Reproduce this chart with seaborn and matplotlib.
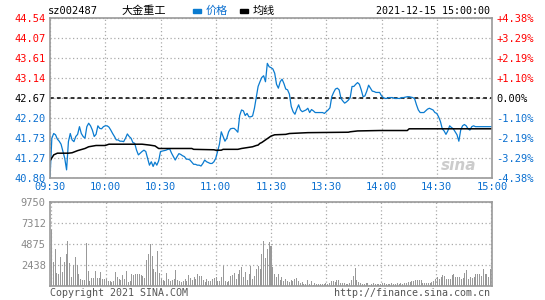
import matplotlib
matplotlib.use("Agg")
import matplotlib.pyplot as plt
from matplotlib.patches import Rectangle
import seaborn as sns

sns.set_theme(style="white")
plt.rcParams['font.family'] = ['DejaVu Sans Mono', 'Noto Sans CJK SC']

# ---------------- data ----------------
stock_code = "sz002487"
stock_name = "大金重工"
timestamp = "2021-12-15 15:00:00"
prev_close = 42.67

price_minutes = list(range(241))
price = [
    40.80, 41.73, 41.84, 41.81, 41.71, 41.66, 41.59, 41.42, 41.26, 40.99,
    41.65, 41.84, 41.69, 41.65, 41.77, 41.82, 42.00, 41.84, 41.77, 41.73,
    42.00, 42.08, 42.02, 41.92, 41.77, 41.82, 42.02, 41.96, 41.95, 42.00,
    42.02, 42.02, 41.99, 41.92, 41.84, 41.77, 41.69, 41.69, 41.66, 41.66,
    41.65, 41.73, 41.83, 41.77, 41.73, 41.63, 41.61, 41.45, 41.34, 41.38,
    41.42, 41.45, 41.42, 41.26, 41.10, 41.18, 41.07, 41.17, 41.10, 41.20,
    41.42, 41.43, 41.44, 41.45, 41.47, 41.48, 41.38, 41.30, 41.22, 41.30,
    41.37, 41.35, 41.32, 41.30, 41.24, 41.24, 41.22, 41.17, 41.12, 41.12,
    41.10, 41.10, 41.08, 41.14, 41.22, 41.18, 41.16, 41.14, 41.14, 41.18,
    41.26, 41.42, 41.59, 41.88, 41.77, 41.66, 41.73, 41.88, 41.95, 41.96,
    41.96, 41.92, 41.87, 42.26, 42.39, 42.37, 42.26, 42.31, 42.23, 42.23,
    42.25, 42.43, 42.68, 42.94, 43.05, 43.15, 43.19, 43.05, 43.48, 43.40,
    43.38, 43.35, 43.25, 42.99, 42.90, 43.05, 43.11, 43.01, 42.88, 42.86,
    42.76, 42.47, 42.35, 42.29, 42.41, 42.51, 42.39, 42.35, 42.37, 42.39,
    42.43, 42.33, 42.40, 42.37, 42.33, 42.33, 42.33, 42.33, 42.33, 42.31,
    42.35, 42.39, 42.44, 42.70, 42.80, 42.88, 42.90, 42.86, 42.66, 42.60,
    42.55, 42.58, 42.62, 42.68, 42.94, 42.94, 42.99, 43.03, 42.99, 42.86,
    42.70, 42.72, 42.83, 42.97, 42.90, 42.83, 42.82, 42.80, 42.80, 42.80,
    42.72, 42.68, 42.66, 42.66, 42.68, 42.68, 42.68, 42.66, 42.66, 42.66,
    42.66, 42.68, 42.68, 42.69, 42.70, 42.70, 42.69, 42.68, 42.65, 42.51,
    42.39, 42.33, 42.33, 42.33, 42.37, 42.41, 42.43, 42.41, 42.39, 42.33,
    42.31, 42.23, 42.12, 41.95, 41.90, 41.82, 41.90, 42.02, 41.98, 41.95,
    41.88, 41.81, 41.66, 41.92, 42.02, 42.05, 42.02, 41.95, 41.92, 42.00,
    42.02, 42.00, 42.00, 42.00, 42.00, 42.00, 42.00, 42.00, 42.00, 42.00,
    42.00,
]

avg_minutes = [0, 2, 4, 10, 12, 15, 19, 21, 25, 30, 32, 45, 50, 54, 57, 59,
               60, 77, 78, 89, 90, 93, 94, 102, 104, 107, 110, 112, 113, 114,
               115, 117, 119, 120, 122, 128, 130, 140, 162, 163, 167, 179,
               180, 194, 195, 240]
avg_price = [41.20, 41.34, 41.38, 41.38, 41.39, 41.44, 41.49, 41.53, 41.56,
             41.56, 41.59, 41.59, 41.59, 41.57, 41.55, 41.49, 41.49, 41.49,
             41.47, 41.46, 41.45, 41.45, 41.47, 41.47, 41.49, 41.51, 41.53,
             41.56, 41.57, 41.61, 41.63, 41.69, 41.75, 41.78, 41.81, 41.82,
             41.84, 41.86, 41.87, 41.88, 41.90, 41.91, 41.91, 41.91, 41.95,
             41.95]

vol_minutes = list(range(241))
volume = [
    6520, 2790, 4280, 1530, 1410, 3380, 1610, 2790, 3770, 5270,
    2670, 1020, 2440, 3380, 2440, 1410, 860, 710, 750, 5030,
    1730, 550, 980, 940, 1730, 900, 900, 1610, 860, 790,
    790, 550, 630, 510, 630, 1570, 1100, 790, 710, 1260,
    830, 1730, 510, 590, 1340, 1260, 1340, 1410, 1410, 1260,
    1140, 940, 3070, 3690, 4870, 3500, 1970, 1610, 4090, 1530,
    860, 710, 630, 1490, 790, 550, 710, 860, 1850, 710,
    630, 510, 550, 860, 630, 1260, 940, 710, 1020, 790,
    1410, 1140, 1140, 750, 470, 860, 550, 550, 790, 940,
    1100, 630, 550, 1020, 2320, 630, 510, 550, 1140, 1260,
    1530, 790, 1340, 1810, 2200, 1020, 1650, 750, 1340, 2320,
    860, 1140, 1930, 2320, 1930, 3770, 5270, 3300, 4280, 5110,
    4680, 2200, 1410, 1020, 1410, 710, 1020, 630, 860, 550,
    430, 710, 630, 860, 980, 550, 310, 430, 240, 240,
    750, 240, 550, 160, 390, 200, 200, 200, 200, 240,
    310, 200, 390, 550, 630, 470, 710, 710, 390, 310,
    310, 240, 200, 390, 750, 1140, 2080, 710, 470, 310,
    240, 200, 350, 390, 160, 240, 310, 200, 280, 200,
    200, 310, 310, 240, 240, 200, 310, 240, 280, 310,
    240, 350, 280, 390, 350, 510, 470, 550, 630, 750,
    710, 710, 670, 390, 390, 310, 390, 310, 470, 550,
    860, 1020, 860, 1100, 1260, 1180, 860, 790, 860, 1260,
    1410, 1100, 1020, 1100, 790, 940, 1490, 1810, 860, 1100,
    940, 1100, 1410, 1340, 1340, 1140, 1930, 1340, 1410, 1020,
    1930,
]

price_ticks = [40.80, 41.27, 41.73, 42.20, 42.67, 43.14, 43.61, 44.07, 44.54]
pct_labels = ["-4.38%", "-3.29%", "-2.19%", "-1.10%", "0.00%",
              "+1.10%", "+2.19%", "+3.29%", "+4.38%"]
time_ticks = [0, 30, 60, 90, 120, 150, 180, 210, 240]
time_labels = ["09:30", "10:00", "10:30", "11:00", "11:30",
               "13:30", "14:00", "14:30", "15:00"]
vol_ticks = [0, 2438, 4875, 7312, 9750]
vol_labels = ["", "2438", "4875", "7312", "9750"]

# ---------------- style ----------------
BLUE = "#0a7bd0"
TBLUE = "#0a6fd0"
RED = "#ff0000"
GRID = "#aaaaaa"
SPINE = "#999999"
FS = 7.5

W, H = 545, 300
fig = plt.figure(figsize=(W / 100, H / 100), dpi=100)
fig.patch.set_facecolor("white")


def fx(px):
    return px / W


def fy(py):
    return 1 - py / H


# price axes
ax = fig.add_axes([fx(50), fy(178), fx(492) - fx(50), fy(18) - fy(178)])
sns.lineplot(x=price_minutes, y=price, ax=ax, color=BLUE, lw=0.9)
sns.lineplot(x=avg_minutes, y=avg_price, ax=ax, color="black", lw=1.1)
ax.axhline(prev_close, color="black", lw=1.1, ls=(0, (2.5, 2)), zorder=1)
ax.set_xlim(0, 240)
ax.set_ylim(price_ticks[0], price_ticks[-1])
ax.set_yticks(price_ticks)
ax.set_yticklabels([f"{v:.2f}" for v in price_ticks])
ax.set_xticks(time_ticks)
ax.set_xticklabels(time_labels)
ax.grid(True, color=GRID, ls=(0, (1, 2)), lw=0.9)
ax.set_axisbelow(True)
ax.tick_params(axis="both", length=0, labelsize=FS, pad=3)
ax.tick_params(axis="x", pad=3, labelcolor=TBLUE)
for lbl, v in zip(ax.get_yticklabels(), price_ticks):
    lbl.set_color(RED if v > prev_close else ("black" if v == prev_close else TBLUE))
for s in ax.spines.values():
    s.set_color(SPINE)
    s.set_linewidth(1.2)
ax.set_xlabel("")
ax.set_ylabel("")

ax2 = ax.twinx()
ax2.set_ylim(price_ticks[0], price_ticks[-1])
ax2.set_yticks(price_ticks)
ax2.set_yticklabels(pct_labels)
ax2.tick_params(axis="y", length=0, labelsize=FS, pad=3)
for lbl, t in zip(ax2.get_yticklabels(), pct_labels):
    lbl.set_color(RED if t.startswith("+") else (TBLUE if t.startswith("-") else "black"))
for s in ax2.spines.values():
    s.set_visible(False)

# watermark
ax.text(0.965, 0.08, "sina", transform=ax.transAxes, ha="right", va="center",
        fontsize=11, fontweight="bold", fontstyle="italic", color="#cccccc",
        family="DejaVu Sans")

# volume axes
axv = fig.add_axes([fx(50), fy(286), fx(492) - fx(50), fy(202) - fy(286)])
sns.barplot(x=vol_minutes, y=volume, ax=axv, native_scale=True,
            color="#999999", width=0.55, linewidth=0, errorbar=None,
            saturation=1)
axv.set_xlim(-0.8, 240.8)
axv.set_ylim(0, vol_ticks[-1])
axv.set_yticks(vol_ticks)
axv.set_yticklabels(vol_labels)
axv.set_xticks(time_ticks)
axv.set_xticklabels([])
axv.grid(True, color=GRID, ls=(0, (1, 2)), lw=0.9)
axv.set_axisbelow(True)
axv.tick_params(axis="both", length=0, labelsize=FS, pad=3, labelcolor="#888888")
for s in axv.spines.values():
    s.set_color(SPINE)
    s.set_linewidth(1.2)
axv.set_xlabel("")
axv.set_ylabel("")

# header
fig.text(fx(48), fy(11), stock_code, fontsize=FS, va="center", ha="left", color="black")
fig.text(fx(121), fy(11), stock_name, fontsize=8, va="center", ha="left",
         color="black", family=["Noto Sans CJK SC", "DejaVu Sans"])
fig.patches.append(Rectangle((fx(193), fy(12.5)), fx(8), 3 / H, color=BLUE,
                             transform=fig.transFigure, figure=fig))
fig.text(fx(206), fy(11), "价格", fontsize=8, va="center", ha="left",
         color=TBLUE, family=["Noto Sans CJK SC", "DejaVu Sans"])
fig.patches.append(Rectangle((fx(240), fy(12.5)), fx(8), 3 / H, color="black",
                             transform=fig.transFigure, figure=fig))
fig.text(fx(253), fy(11), "均线", fontsize=8, va="center", ha="left",
         color="black", family=["Noto Sans CJK SC", "DejaVu Sans"])
fig.text(fx(490), fy(11), timestamp, fontsize=7.2, va="center", ha="right", color="black")

# footer
fig.text(fx(50), fy(293), "Copyright 2021 SINA.COM", fontsize=7.2,
         va="center", ha="left", color="#555555")
fig.text(fx(490), fy(293), "http://finance.sina.com.cn", fontsize=7.2,
         va="center", ha="right", color="#555555")

fig.savefig("out.png", dpi=100, facecolor="white")
